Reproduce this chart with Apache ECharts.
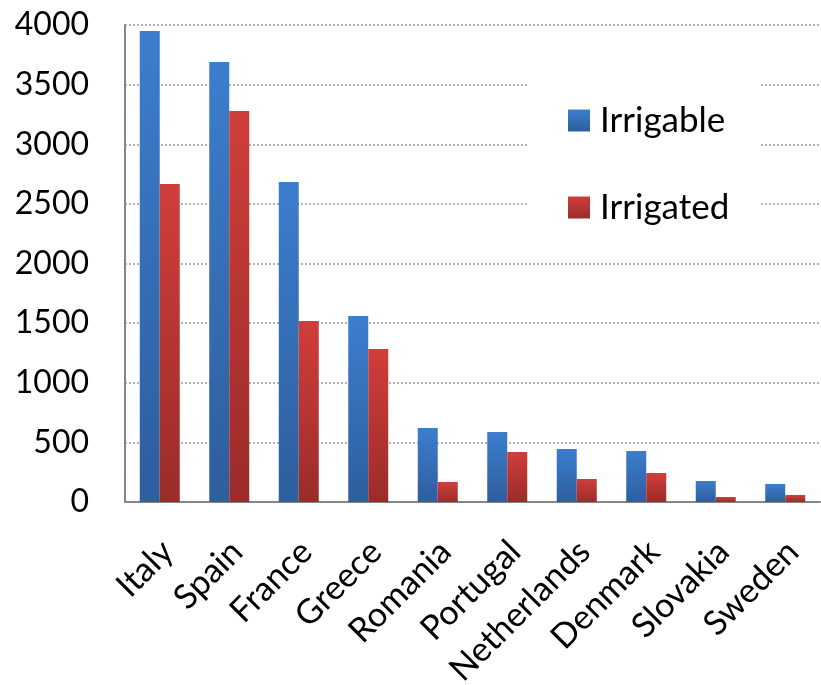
<!DOCTYPE html>
<html><head><meta charset="utf-8">
<script src="https://cdn.jsdelivr.net/npm/echarts@6/dist/echarts.min.js"></script>
<style>html,body{margin:0;padding:0;background:#fff}#c{width:821px;height:685px}</style>
</head><body><div id="c"></div>
<script>
var categories = ["Italy","Spain","France","Greece","Romania","Portugal","Netherlands","Denmark","Slovakia","Sweden"];
var irrigable = [3950, 3690, 2683, 1560, 621, 587, 444, 428, 176, 151];
var irrigated = [2667, 3279, 1518, 1283, 168, 419, 193, 243, 42, 59];
var yTicks = [0, 500, 1000, 1500, 2000, 2500, 3000, 3500, 4000];

function grad(top, bottom){
  return new echarts.graphic.LinearGradient(0,0,0,1,[{offset:0,color:top},{offset:1,color:bottom}]);
}
var blue = grad('#3c7ece','#2e5e9d');
var red = grad('#d03e3b','#9b2c2a');
var chart = echarts.init(document.getElementById('c'));
chart.setOption({
  animation:false,
  backgroundColor:'#fff',
  grid:{left:125,right:1,top:25,bottom:183,containLabel:false,outerBoundsMode:'none'},
  legend:{
    orient:'vertical', left:527, top:55,
    padding:[48,30,24,41], backgroundColor:'#fff',
    itemWidth:22, itemHeight:22, itemGap:52,
    icon:'rect',
    textStyle:{fontFamily:'Lato', fontSize:35, color:'#000', lineHeight:34, padding:[0,0,0,5]},
    data:['Irrigable','Irrigated']
  },
  xAxis:{
    type:'category', data:categories,
    axisLine:{lineStyle:{color:'#868686', width:2}},
    axisTick:{show:false},
    axisLabel:{rotate:45, interval:0, margin:52, padding:[0,-11,0,0], fontFamily:'Lato', fontSize:34, color:'#000'}
  },
  yAxis:{
    type:'value', min:yTicks[0], max:yTicks[yTicks.length-1], interval:500,
    axisLine:{show:true, lineStyle:{color:'#868686', width:2}},
    axisTick:{show:false},
    splitLine:{lineStyle:{color:'#9a9a9a', type:[2,2], width:1.5}},
    axisLabel:{margin:36, fontFamily:'Lato', fontSize:32, color:'#000', formatter:function(v){return String(v);}}
  },
  series:[
    {name:'Irrigable', type:'bar', data:irrigable, barWidth:20, barGap:'0%', itemStyle:{color:blue}},
    {name:'Irrigated', type:'bar', data:irrigated, barWidth:20, barGap:'0%', itemStyle:{color:red}}
  ]
});
</script></body></html>
